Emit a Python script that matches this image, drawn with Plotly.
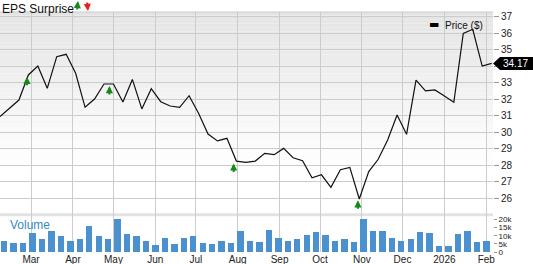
import pandas as pd
import plotly.graph_objects as go

# ---- data ----
start_date = "2025-02-06"
n_weeks = 53
dates = pd.date_range(start_date, periods=n_weeks, freq="7D")

price = [30.95, 31.45, 31.95, 33.47, 34.01, 32.66, 34.58, 34.72, 33.57, 31.51,
         32.01, 32.92, 32.92, 31.83, 33.20, 31.41, 32.64, 31.85, 31.59, 31.51,
         32.21, 31.15, 29.89, 29.47, 29.63, 28.25, 28.17, 28.25, 28.72, 28.64,
         29.02, 28.45, 28.27, 27.24, 27.42, 26.66, 27.73, 27.87, 25.95, 27.61,
         28.36, 29.53, 31.04, 29.87, 33.16, 32.50, 32.56, 32.19, 31.81, 35.99,
         36.24, 34.01, 34.17]

volume_k = [6.6, 5.6, 5.6, 12.0, 7.8, 13.2, 9.7, 6.8, 7.8, 15.9,
            10.1, 8.3, 20.4, 10.9, 9.7, 6.6, 4.6, 8.9, 5.2, 8.5,
            10.1, 5.4, 5.2, 6.6, 5.6, 12.9, 6.8, 6.4, 13.4, 8.9,
            6.8, 8.0, 10.7, 12.6, 10.3, 6.6, 7.8, 6.0, 20.3, 12.8,
            13.2, 8.9, 7.0, 7.8, 12.6, 11.5, 3.9, 3.9, 11.1, 12.8,
            6.2, 7.0, 5.2]
volume = [v * 1000 for v in volume_k]

eps_dates = ["2025-02-26", "2025-04-28", "2025-07-29", "2025-10-29"]
eps_arrow_tip = [33.36, 32.80, 28.11, 25.87]

month_ticks = ["2025-03-01", "2025-04-01", "2025-05-01", "2025-06-01", "2025-07-01",
               "2025-08-01", "2025-09-01", "2025-10-01", "2025-11-01", "2025-12-01",
               "2026-01-01", "2026-02-01"]
month_labels = ["Mar", "Apr", "May", "Jun", "Jul", "Aug", "Sep", "Oct", "Nov", "Dec",
                "2026", "Feb"]

price_ticks = list(range(26, 38))
# the "34" label is covered by the last-price tag in the reference
price_labels = ["26", "27", "28", "29", "30", "31", "32", "33", "", "35", "36", "37"]
vol_ticks = [0, 5000, 10000, 15000, 20000]
vol_labels = ["0", "5k", "10k", "15k", "20k"]

last_price_text = "34.17"

# ---- figure ----
FONT = "Liberation Sans, Arial, sans-serif"
DAY_MS = 86400000
GREEN = "#15891a"
RED = "#e3211f"

fig = go.Figure()

fig.add_trace(go.Bar(
    x=dates, y=volume, yaxis="y2",
    marker=dict(color="#4b91cf", line=dict(width=0)),
    width=4.7 * DAY_MS, offset=0.75 * DAY_MS,
    showlegend=False, hoverinfo="skip",
))

fig.add_trace(go.Scatter(
    x=dates, y=price, mode="lines",
    line=dict(color="#111111", width=1.2),
    showlegend=False, hoverinfo="skip",
))

# gradient background for price area (paper coords)
shapes = []
n_bands = 40
top_f, bot_f = 1.0, 0.36
for k in range(n_bands):
    f0 = top_f - (top_f - bot_f) * k / n_bands
    f1 = top_f - (top_f - bot_f) * (k + 1) / n_bands
    t = (k + 0.5) / n_bands
    g = int(round(0xe4 + (0xff - 0xe4) * t))
    shapes.append(dict(type="rect", xref="paper", yref="paper", x0=0, x1=1,
                       y0=f1, y1=f0, fillcolor=f"rgb({g},{g},{g})",
                       line=dict(width=0), layer="below"))
# separator between price and volume
shapes.append(dict(type="line", xref="paper", yref="y", x0=0, x1=1, y0=25, y1=25,
                   line=dict(color="#e3e3e3", width=3), layer="below"))
# top border
shapes.append(dict(type="line", xref="paper", yref="paper", x0=0, x1=1, y0=1, y1=1,
                   line=dict(color="#cccccc", width=1)))
# last-price tag (pointer + box), sized in pixels, anchored at the last price
shapes.append(dict(type="path", xref="paper", xsizemode="pixel", xanchor=1,
                   yref="y", ysizemode="pixel", yanchor=float(last_price_text),
                   path="M0,0 L7,6.5 L41,6.5 L41,-6.5 L7,-6.5 Z",
                   fillcolor="#000000", line=dict(width=0), layer="above"))

ARW = dict(showarrow=True, ax=0, arrowhead=2, arrowsize=0.72, arrowwidth=2,
           standoff=0, text="")

annotations = []
for d, tip in zip(eps_dates, eps_arrow_tip):
    annotations.append(dict(x=d, y=tip, xref="x", yref="y", ay=10,
                            arrowcolor=GREEN, **ARW))

annotations += [
    dict(x=0, y=1, xref="paper", yref="paper", yshift=12, text="EPS Surprise",
         showarrow=False, xanchor="left", yanchor="top",
         font=dict(family=FONT, size=12, color="#111111")),
    dict(x=0, y=1, xref="paper", yref="paper", xshift=77, yshift=11,
         ay=10, arrowcolor=GREEN, **ARW),
    dict(x=0, y=1, xref="paper", yref="paper", xshift=87, yshift=1,
         ay=-10, arrowcolor=RED, **ARW),
    dict(x=1, y=1, xref="paper", yref="paper", xshift=-66, yshift=-4,
         text="<b>▬</b>", showarrow=False, xanchor="left", yanchor="top",
         font=dict(family="DejaVu Sans", size=11, color="#000000")),
    dict(x=1, y=1, xref="paper", yref="paper", xshift=-50, yshift=-6,
         text="Price ($)", showarrow=False, xanchor="left", yanchor="top",
         font=dict(family=FONT, size=10, color="#111111")),
    dict(x=0, y=0, xref="paper", yref="paper", xshift=8, yshift=36,
         text="Volume", showarrow=False, xanchor="left", yanchor="top",
         font=dict(family=FONT, size=12, color="#3a89c9")),
    dict(x=1, y=float(last_price_text), xref="paper", yref="y", xshift=8,
         text=last_price_text, showarrow=False, xanchor="left",
         yanchor="middle", font=dict(family=FONT, size=10, color="#ffffff")),
]

fig.update_layout(
    width=533, height=264, autosize=False,
    margin=dict(l=0, r=40, t=12, b=12),
    paper_bgcolor="#ffffff", plot_bgcolor="#ffffff",
    font=dict(family=FONT, size=10, color="#333333"),
    bargap=0,
    shapes=shapes, annotations=annotations,
    xaxis=dict(
        type="date", range=["2025-02-06", "2026-02-06"],
        tickvals=month_ticks, ticktext=month_labels,
        showgrid=True, gridcolor="#cccccc", gridwidth=1,
        ticks="", showline=False, zeroline=False,
        tickfont=dict(family=FONT, size=10, color="#222222"),
        ticklabelstandoff=0,
    ),
    yaxis=dict(
        range=[22.74, 37.285], side="right",
        tickvals=price_ticks, ticktext=price_labels,
        showgrid=True, gridcolor="#cccccc", gridwidth=1,
        ticks="outside", ticklen=5, tickcolor="#999999",
        zeroline=False, showline=False,
        tickfont=dict(family=FONT, size=10, color="#222222"),
    ),
    yaxis2=dict(
        overlaying="y", side="right", range=[0, 148000],
        tickvals=vol_ticks, ticktext=vol_labels, showgrid=False,
        ticks="outside", ticklen=3, tickcolor="#999999",
        zeroline=False, showline=False,
        tickfont=dict(family=FONT, size=8, color="#222222"),
    ),
)

fig.write_html("out.html")
